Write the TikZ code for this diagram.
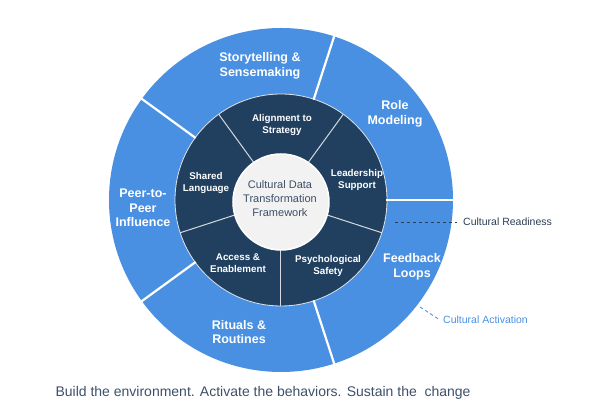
\documentclass[tikz,border=0pt]{standalone}
\usepackage{fontspec}
\setmainfont{Liberation Sans}
\usepackage{xcolor}
\usepackage{tikz}

\definecolor{ringblue}{RGB}{74,144,226}
\definecolor{ringdark}{RGB}{33,64,96}
\definecolor{hubgray}{RGB}{242,242,242}
\definecolor{hubtext}{RGB}{60,80,104}
\definecolor{notedark}{RGB}{44,62,84}

\begin{document}
\begin{tikzpicture}[
    x=1pt, y=1pt,
    outerlabel/.style={text=white, align=center, font=\fontsize{12.5}{14.5}\selectfont\bfseries},
    innerlabel/.style={text=white, align=center, font=\fontsize{9.8}{12}\selectfont\bfseries},
    hublabel/.style={text=hubtext, align=center, font=\fontsize{11}{14}\selectfont},
    notelabel/.style={anchor=west, inner sep=3pt, font=\fontsize{10.5}{12}\selectfont}
]
\useasboundingbox (-281,-219) rectangle (317,200);

% rings
\fill[ringblue] (0,0) circle (172);
\filldraw[ringdark, draw=white!85!ringdark, line width=0.8pt] (0,0) circle (106);
\foreach \a in {0,72,...,288}
    \draw[white, line width=2.2pt] (\a:105.5) -- (\a:175);
\foreach \a in {-90,-18,...,198}
    \draw[white!80!ringdark, line width=1pt] (\a:40) -- (\a:106);
\filldraw[hubgray, draw=white, line width=1.5pt] (0,-2) circle (48);

% outer ring
\node[outerlabel] (story) at (-21,134) {Storytelling \&\\Sensemaking};
\node[outerlabel] (role) at (114,86) {Role\\Modeling};
\node[outerlabel] (feedback) at (131,-67) {Feedback\\Loops};
\node[outerlabel] (rituals) at (-42,-132) {Rituals \&\\Routines};
\node[outerlabel] (peer) at (-138,-8) {Peer-to-\\Peer\\Influence};

% inner ring
\node[innerlabel] (align) at (1,75) {Alignment to\\Strategy};
\node[innerlabel] (lead) at (76,20) {Leadership\\Support};
\node[innerlabel] (psych) at (47,-66) {Psychological\\Safety};
\node[innerlabel] (access) at (-43,-63) {Access \&\\Enablement};
\node[innerlabel] (shared) at (-75,17) {Shared\\Language};

% hub
\node[hublabel] (hub) at (-1,1) {Cultural Data\\Transformation\\Framework};

% notes
\coordinate (readyA) at (114,-22);
\node[notelabel, text=notedark] (ready) at (179,-22) {Cultural Readiness};
\draw[notedark, line width=0.8pt, dash pattern=on 3.5pt off 2.5pt, shorten >=3pt] (readyA) -- (ready.west);

\coordinate (activeA) at (139,-107);
\node[notelabel, text=ringblue] (active) at (159,-120) {Cultural Activation};
\draw[ringblue, line width=0.8pt, dash pattern=on 3.5pt off 2.5pt, shorten >=2pt] (activeA) -- (active.west);

\node[anchor=west, text=hubtext, font=\fontsize{14}{16}\selectfont] (tagline) at (-229,-193)
    {Build the environment. Activate the behaviors. Sustain the\ \ change};
\end{tikzpicture}
\end{document}
